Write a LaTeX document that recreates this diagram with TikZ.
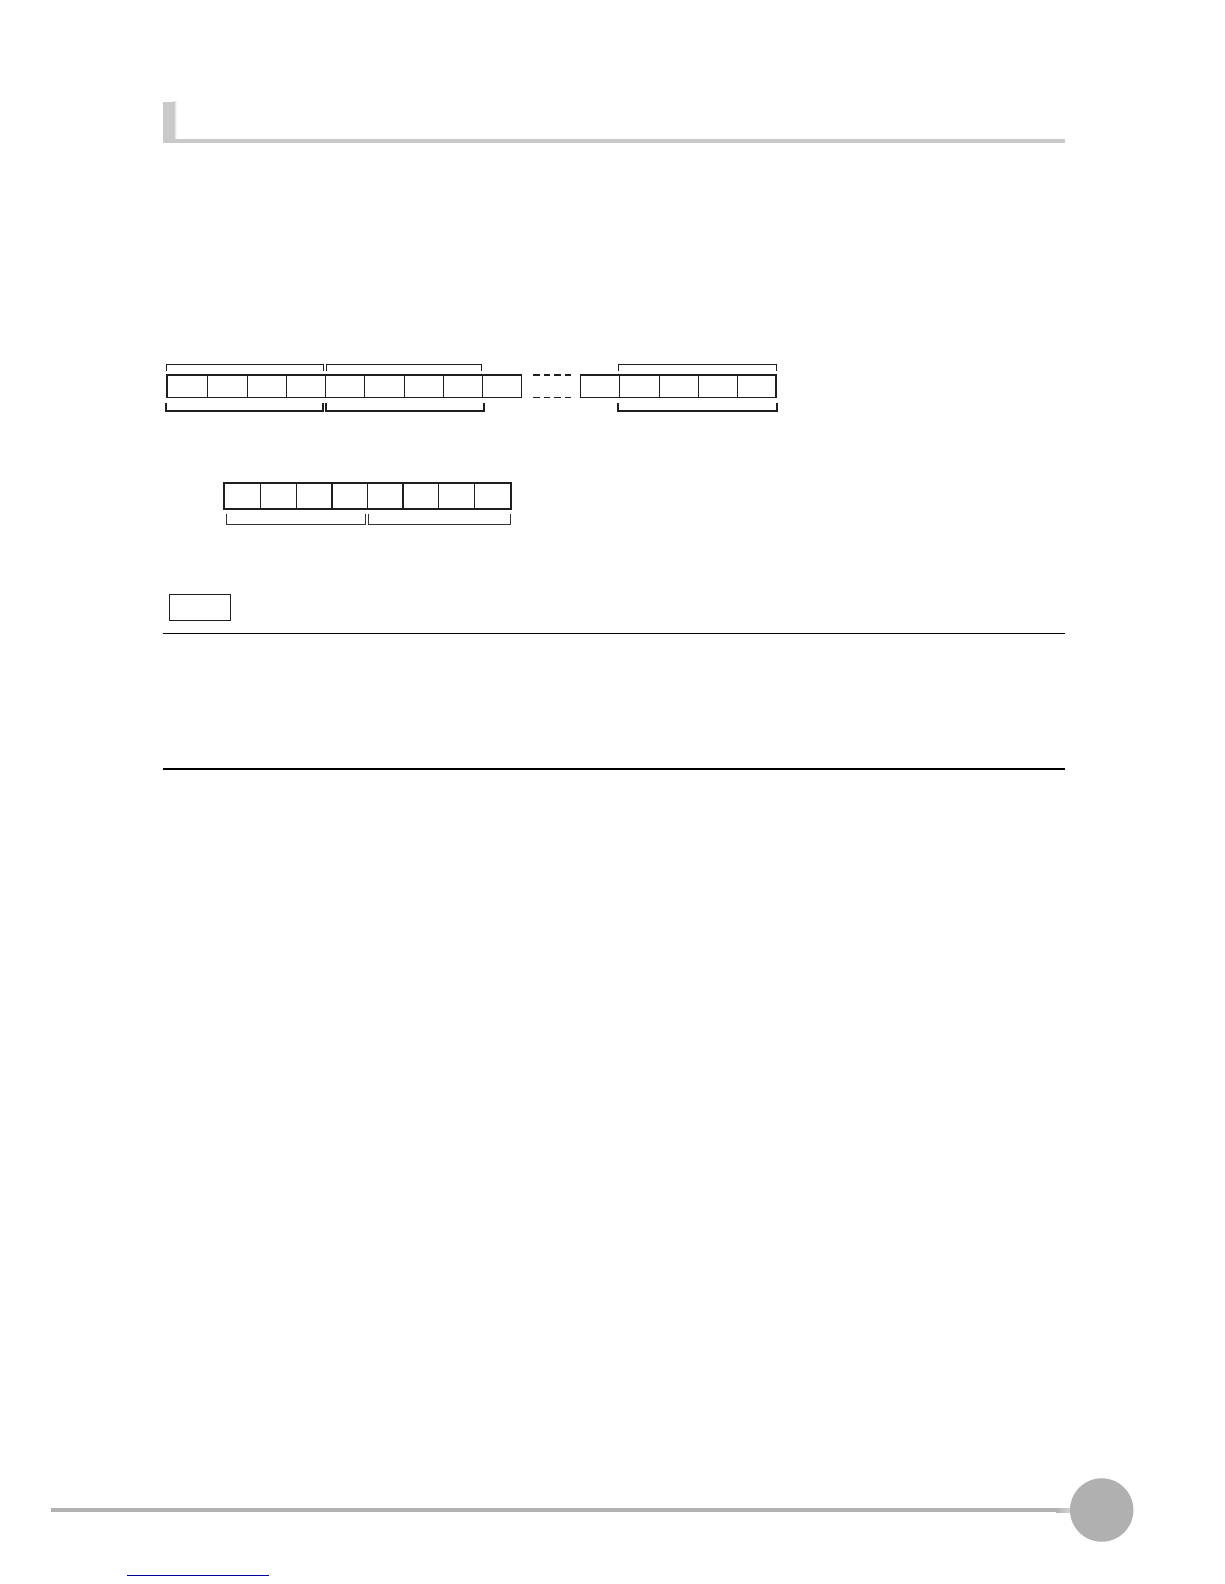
\documentclass[tikz,border=0pt]{standalone}
\begin{document}
\begin{tikzpicture}[x=1pt,y=-1pt,
  cellline/.style={draw=black!88,line width=1.3pt},
  brk/.style={draw=black!88,line width=1.3pt},
  brkthick/.style={draw=black!88,line width=2pt},
  rule/.style={draw=black,line width=1.4pt},
  titlegray/.style={fill=black!21}]
\useasboundingbox[fill=white] (0,0) rectangle (1224,1584);
% title bar
\fill[titlegray] (162.7,102) rectangle (173.5,142.7);
\shade[left color=black!21,right color=white] (173.5,102) rectangle (176.5,139);
\fill[titlegray] (162.7,139.2) rectangle (1065,142.8);
% row 1 cells
\foreach \x in {167,207.7,247.3,286.3,325.3,364.3,404.3,443.3,482.3,521.7,580.3,619.3,659.3,698.7,737.7,776}
  \draw[cellline] (\x,375) -- (\x,397.3);
\draw[cellline] (166.4,375) -- (522.2,375);
\draw[cellline] (166.4,397.3) -- (522.2,397.3);
\draw[cellline] (579.8,375) -- (776.6,375);
\draw[cellline] (579.8,397.3) -- (776.6,397.3);
\draw[cellline,dash pattern=on 6.5pt off 4pt] (533,375) -- (574,375);
\draw[cellline,dash pattern=on 6.5pt off 4pt] (533,397.3) -- (574,397.3);
% top brackets
\draw[brk] (166.3,371) -- (166.3,364.3) -- (323.3,364.3) -- (323.3,371);
\draw[brk] (326.3,371) -- (326.3,364.3) -- (481.7,364.3) -- (481.7,371);
\draw[brk] (618.3,371) -- (618.3,364.3) -- (776.7,364.3) -- (776.7,371);
% bottom brackets
\draw[brkthick] (166.3,403.3) -- (166.3,411) -- (323.3,411) -- (323.3,403.3);
\draw[brkthick] (326.3,403.3) -- (326.3,411) -- (484.3,411) -- (484.3,403.3);
\draw[brkthick] (618.3,403.3) -- (618.3,411) -- (776.7,411) -- (776.7,403.3);
% row 2 byte
\draw[draw=black!88,line width=2.2pt] (224.3,483.3) rectangle (510.7,509);
\foreach \x in {260.3,296.7,332,367.3,438.7,474.7}
  \draw[cellline] (\x,483.3) -- (\x,509);
\draw[draw=black!88,line width=2pt] (403,483.3) -- (403,509);
\draw[draw=black!80,line width=1pt] (226.3,514) -- (226.3,524.3) -- (365.3,524.3) -- (365.3,514);
\draw[draw=black!80,line width=1pt] (368.3,514) -- (368.3,524.3) -- (510.7,524.3) -- (510.7,514);
% note box and rules
\draw[draw=black!88,line width=1.3pt] (169.3,594.3) rectangle (230.7,620.7);
\draw[rule] (162.7,633.3) -- (1065,633.3);
\draw[rule] (162.7,769) -- (1065,769);
% footer
\fill[black!30] (50.7,1508) rectangle (1058,1512);
\shade[left color=black!30,right color=black!15] (1056,1508) rectangle (1072,1512);
\fill[black!31] (1101.7,1510) circle (31.7);
\draw[draw={rgb,255:red,0;green,0;blue,160},line width=1pt] (127,1575) -- (269,1575);
\end{tikzpicture}
\end{document}
